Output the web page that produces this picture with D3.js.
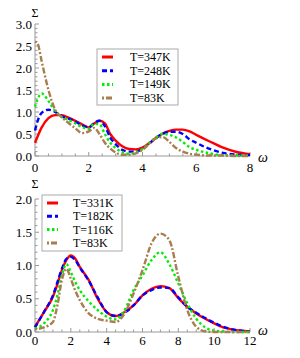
<!DOCTYPE html>
<html><head><meta charset="utf-8">
<script src="https://cdn.jsdelivr.net/npm/d3@7"></script>
<style>body{margin:0;background:#fff}svg{display:block}</style>
</head><body><svg id="c" width="300" height="358"></svg>
<script>
// ---- top panel data ----
const omegaTop = [0,0.1,0.25,0.5,0.75,1,1.25,1.5,1.75,2,2.2,2.4,2.6,2.8,3,3.25,3.5,3.75,4,4.25,4.5,4.75,5,5.25,5.5,5.75,6,6.5,7,7.5,8];
const top347 = [0.3,0.45,0.65,0.86,0.93,0.93,0.87,0.8,0.72,0.65,0.74,0.8,0.74,0.5,0.35,0.22,0.16,0.15,0.19,0.29,0.41,0.51,0.57,0.6,0.6,0.56,0.48,0.33,0.19,0.09,0.04];
const top248 = [0.58,0.8,0.98,1.05,1.0,0.9,0.85,0.78,0.7,0.65,0.75,0.8,0.68,0.42,0.27,0.14,0.1,0.1,0.16,0.28,0.41,0.5,0.55,0.55,0.5,0.38,0.3,0.16,0.07,0.03,0.02];
const top149 = [1.12,1.3,1.42,1.25,1.02,0.88,0.82,0.74,0.66,0.62,0.73,0.72,0.5,0.3,0.18,0.09,0.05,0.08,0.16,0.3,0.42,0.5,0.48,0.42,0.32,0.2,0.14,0.06,0.02,0.01,0.01];
const top83  = [2.6,2.55,2.15,1.5,1.05,0.88,0.75,0.63,0.52,0.56,0.64,0.5,0.3,0.17,0.08,0.03,0.03,0.06,0.14,0.28,0.4,0.43,0.32,0.18,0.1,0.05,0.03,0.01,0.01,0,0];
const labelsTop = ["T=347K","T=248K","T=149K","T=83K"];
const yTicksTop = [0,0.5,1,1.5,2,2.5,3];
const xTicksTop = [0,2,4,6,8];

// ---- bottom panel data ----
const omegaBot = [0,0.5,1,1.25,1.5,1.75,2,2.25,2.5,3,3.5,4,4.5,5,5.5,6,6.5,7,7.5,8,8.5,9,9.5,10,10.5,11,11.5,12];
const bot331 = [0.08,0.3,0.53,0.72,0.93,1.08,1.15,1.1,0.98,0.78,0.5,0.3,0.24,0.3,0.4,0.55,0.65,0.69,0.66,0.51,0.38,0.28,0.2,0.13,0.07,0.04,0.02,0.01];
const bot182 = [0.07,0.3,0.55,0.75,0.95,1.1,1.13,1.08,0.97,0.77,0.52,0.3,0.24,0.29,0.4,0.55,0.63,0.67,0.66,0.52,0.38,0.29,0.21,0.14,0.08,0.04,0.02,0.01];
const bot116 = [0.05,0.13,0.33,0.55,0.85,1.02,0.9,0.75,0.63,0.46,0.33,0.23,0.19,0.33,0.63,0.85,1.08,1.2,1.02,0.73,0.43,0.2,0.07,0.02,0.01,0,0,0];
const bot83  = [0.04,0.07,0.15,0.4,0.78,0.95,0.8,0.62,0.48,0.28,0.2,0.17,0.15,0.28,0.58,0.93,1.33,1.48,1.38,0.83,0.33,0.08,0.01,0,0,0,0,0];
const labelsBot = ["T=331K","T=182K","T=116K","T=83K"];
const yTicksBot = [0,0.5,1,1.5,2];
const xTicksBot = [0,2,4,6,8,10,12];

const colors = ["#ff0000","#0000ff","#00ee00","#a87d4f"];
const dashes = [null,"5,3","2.5,2.5","2,2,6,2"];

const svg = d3.select("#c");
svg.append("rect").attr("width",300).attr("height",358).attr("fill","#fff");

function panel(cfg){
  const x = d3.scaleLinear().domain(cfg.xd).range([35,250]);
  const y = d3.scaleLinear().domain(cfg.yd).range(cfg.yr);
  const g = svg.append("g");
  const axCol = "#999";
  // y axis
  g.append("line").attr("x1",35).attr("x2",35).attr("y1",y(cfg.yd[0])).attr("y2",y(cfg.yd[1])).attr("stroke",axCol).attr("stroke-width",1);
  g.append("line").attr("x1",35).attr("x2",250).attr("y1",y(0)).attr("y2",y(0)).attr("stroke",axCol).attr("stroke-width",1);
  d3.range(cfg.yd[0],cfg.yd[1]+1e-9,0.1).forEach(v=>{
    const major = Math.abs(v/0.5-Math.round(v/0.5))<1e-6;
    g.append("line").attr("x1",35).attr("x2",35+(major?4:2.5)).attr("y1",y(v)).attr("y2",y(v)).attr("stroke",axCol);
  });
  d3.range(cfg.xd[0],cfg.xd[1]+1e-9,0.5).forEach(v=>{
    const major = Math.abs(v/2-Math.round(v/2))<1e-6;
    g.append("line").attr("x1",x(v)).attr("x2",x(v)).attr("y1",y(0)).attr("y2",y(0)-(major?4:2.5)).attr("stroke",axCol);
  });
  cfg.yt.forEach(v=>{
    g.append("text").attr("x",32).attr("y",y(v)+4.5).attr("text-anchor","end")
      .attr("font-family","Liberation Serif").attr("font-size",13).text(v.toFixed(1));
  });
  cfg.xt.forEach(v=>{
    g.append("text").attr("x",x(v)).attr("y",y(0)+cfg.xlo).attr("text-anchor","middle")
      .attr("font-family","Liberation Serif").attr("font-size",13).text(v);
  });
  g.append("text").attr("x",35).attr("y",cfg.sigY).attr("text-anchor","middle")
    .attr("font-family","Liberation Serif").attr("font-size",12).text("Σ");
  g.append("text").attr("x",258).attr("y",y(0)+cfg.omY).attr("font-family","Liberation Serif")
    .attr("font-style","italic").attr("font-size",14).text("ω");
  const line = d3.line().x((d,i)=>x(cfg.xs[i])).y(d=>y(d)).curve(d3.curveMonotoneX);
  cfg.series.forEach((s,k)=>{
    g.append("path").attr("d",line(s)).attr("fill","none").attr("stroke",colors[k])
      .attr("stroke-width",2.4).attr("stroke-dasharray",dashes[k]);
  });
  // legend
  const L = cfg.leg;
  g.append("rect").attr("x",L.x).attr("y",L.y).attr("width",L.w).attr("height",L.h)
    .attr("fill","#fff").attr("stroke","#aaa").attr("stroke-width",1);
  cfg.labels.forEach((t,k)=>{
    const yy = L.y+8+k*L.dy;
    g.append("line").attr("x1",L.x+5).attr("x2",L.x+16).attr("y1",yy).attr("y2",yy)
      .attr("stroke",colors[k]).attr("stroke-width",3).attr("stroke-dasharray",dashes[k]);
    g.append("text").attr("x",L.tx).attr("y",yy+4).attr("font-family","Liberation Serif")
      .attr("font-size",12).text(t);
  });
}

panel({xd:[0,8], yd:[0,3], yr:[156,24], xs:omegaTop, series:[top347,top248,top149,top83],
  labels:labelsTop, yt:yTicksTop, xt:xTicksTop, xlo:16, sigY:17, omY:6,
  leg:{x:97,y:49,w:81,h:56,dy:13.7,tx:130}});
panel({xd:[0,12], yd:[0,2], yr:[332,199], xs:omegaBot, series:[bot331,bot182,bot116,bot83],
  labels:labelsBot, yt:yTicksBot, xt:xTicksBot, xlo:12.5, sigY:188, omY:3,
  leg:{x:42,y:195,w:80,h:56,dy:13.3,tx:73}});
</script></body></html>
